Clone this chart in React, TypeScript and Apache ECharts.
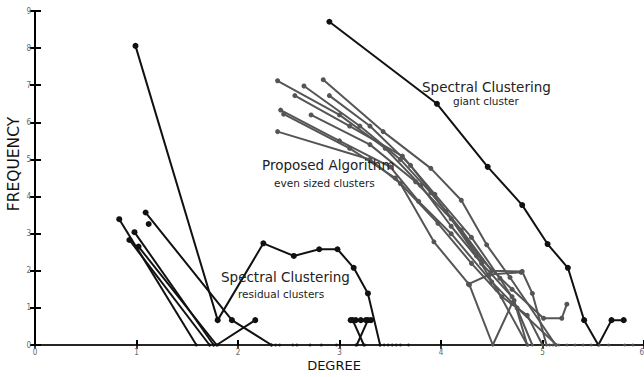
import React, { useEffect, useRef } from "react";
import * as echarts from "echarts";

const xTickValues = [0, 1, 2, 3, 4, 5, 6];
const yTickValues = [0, 1, 2, 3, 4, 5, 6, 7, 8, 9];

const giantCluster: number[][] = [
  [2.9, 8.71], [3.96, 6.5], [4.46, 4.8], [4.8, 3.77], [5.05, 2.72],
  [5.25, 2.08], [5.41, 0.67], [5.55, 0], [5.68, 0.67], [5.8, 0.67],
];

const residualClusters: number[][][] = [
  [[0.99, 8.06], [1.8, 0.67], [2.25, 2.74], [2.55, 2.4], [2.8, 2.58], [2.98, 2.58], [3.14, 2.08], [3.28, 1.39], [3.4, 0]],
  [[1.09, 3.57], [1.94, 0.67], [2.33, 0]],
  [[0.83, 3.39], [1.59, 0]],
  [[0.93, 2.83], [1.72, 0]],
  [[0.98, 3.04], [1.76, 0]],
  [[1.02, 2.65], [1.79, 0], [2.17, 0.67]],
  [[1.12, 3.26]],
  [[3.11, 0.67], [3.16, 0.67], [3.21, 0.67], [3.26, 0.67], [3.31, 0.67]],
  [[3.13, 0.67], [3.24, 0]],
  [[3.28, 0.67], [3.17, 0]],
];

const proposedClusters: number[][][] = [
  [[2.39, 7.12], [3.0, 6.2], [3.45, 5.3], [3.8, 4.3], [4.1, 3.2], [4.4, 2.2], [4.7, 1.3], [4.9, 0]],
  [[2.65, 6.98], [3.2, 5.9], [3.6, 5.0], [3.9, 4.1], [4.2, 3.1], [4.5, 2.0], [4.8, 1.98], [4.9, 1.39], [5.04, 0]],
  [[2.84, 7.15], [3.43, 5.75], [3.9, 4.76], [4.2, 3.9], [4.45, 2.7], [4.68, 1.82], [5.13, 0]],
  [[2.56, 6.72], [3.1, 5.9], [3.62, 5.09], [3.94, 4.06], [4.3, 2.9], [4.58, 1.8], [4.72, 1.2], [4.85, 0]],
  [[2.9, 6.72], [3.3, 5.9], [3.7, 4.84], [4.05, 3.6], [4.4, 2.3], [4.7, 1.5], [5.01, 0.72], [5.19, 0.72], [5.24, 1.1]],
  [[2.42, 6.33], [3.0, 5.5], [3.5, 4.8], [3.78, 3.87], [4.1, 3.0], [4.5, 1.7], [4.75, 1.0], [5.14, 0]],
  [[2.45, 6.22], [3.1, 5.3], [3.55, 4.5], [3.97, 3.28], [4.3, 2.2], [4.6, 1.3], [4.85, 0.8], [5.0, 0]],
  [[2.72, 6.2], [3.3, 5.4], [3.75, 4.4], [4.1, 3.4], [4.35, 2.4], [4.55, 1.5], [4.85, 0]],
  [[2.39, 5.75], [3.3, 5.0], [3.6, 4.35], [3.93, 2.78], [4.28, 1.62], [4.51, 0], [4.7, 1.12]],
  [[4.27, 1.64], [4.48, 1.9], [4.79, 1.96]],
];

const residualZeroDegrees = [1.72, 1.76, 1.8, 2.33, 2.37, 2.41, 2.54, 2.58, 2.71, 2.82, 2.97, 3.16, 3.25, 3.4, 3.44, 3.48, 3.52, 3.56, 3.6, 3.68];
const proposedZeroDegrees = [4.51, 4.86, 5.07, 5.1, 5.13, 5.16, 5.24, 5.32, 5.4, 5.48, 5.56, 5.65, 5.81, 5.89];

const annotations = [
  { text: "Spectral Clustering", x: 422, y: 87, size: 13.5 },
  { text: "giant cluster", x: 453, y: 101, size: 10.5 },
  { text: "Proposed Algorithm", x: 262, y: 165, size: 13.5 },
  { text: "even sized clusters", x: 274, y: 183, size: 10.5 },
  { text: "Spectral Clustering", x: 221, y: 277, size: 13.5 },
  { text: "residual clusters", x: 238, y: 294, size: 10.5 },
];

const BLACK = "#111111";
const GRAY = "#555555";

const symSize = (v: number[]) => (v[1] === 0 ? 3 : 6);

export default function App() {
  const ref = useRef<HTMLDivElement>(null);
  useEffect(() => {
    if (!ref.current) return;
    const chart = echarts.init(ref.current, null, { renderer: "svg" });
    const series: any[] = [];
    proposedClusters.forEach((d, i) => {
      series.push({
        type: "line", name: "proposed" + i, data: d, xAxisIndex: 0, yAxisIndex: 0,
        symbol: "circle", symbolSize: (v: number[]) => (v[1] === 0 ? 3 : 5),
        lineStyle: { color: GRAY, width: 2 }, itemStyle: { color: GRAY },
        z: 2,
      });
    });
    residualClusters.forEach((d, i) => {
      series.push({
        type: "line", name: "residual" + i, data: d,
        symbol: "circle", symbolSize: symSize,
        lineStyle: { color: BLACK, width: 2 }, itemStyle: { color: BLACK },
        z: 3,
      });
    });
    series.push({
      type: "line", name: "giant", data: giantCluster,
      symbol: "circle", symbolSize: symSize,
      lineStyle: { color: BLACK, width: 2 }, itemStyle: { color: BLACK },
      z: 3,
    });
    series.push({
      type: "scatter", name: "residualZeros", data: residualZeroDegrees.map((x) => [x, 0]),
      symbol: "circle", symbolSize: 3, itemStyle: { color: BLACK }, z: 4,
    });
    series.push({
      type: "scatter", name: "proposedZeros", data: proposedZeroDegrees.map((x) => [x, 0]),
      symbol: "circle", symbolSize: 3, itemStyle: { color: GRAY }, z: 4,
    });

    chart.setOption({
      animation: false,
      backgroundColor: "#ffffff",
      grid: { left: 35, right: 0, top: 11, bottom: 32, containLabel: false, outerBoundsMode: "none" },
      xAxis: [
        {
          type: "value", min: 0, max: 6, interval: 1, position: "bottom",
          axisLine: { show: true, onZero: false, lineStyle: { color: "#000", width: 2 } },
          axisTick: { show: true, inside: true, length: 5, lineStyle: { color: "#000", width: 2 } },
          axisLabel: { fontSize: 8, color: "#666", margin: 3, fontFamily: "DejaVu Sans Condensed",
            alignMaxLabel: "right",
            formatter: (v: number) => (xTickValues.includes(v) ? String(v) : "") },
          splitLine: { show: false },
        },
        {
          type: "value", min: 0, max: 6, interval: 1, position: "top",
          axisLine: { show: true, lineStyle: { color: "#333", width: 1.5 } },
          axisTick: { show: true, inside: true, length: 4, lineStyle: { color: "#000", width: 1.5 } },
          axisLabel: { show: false }, splitLine: { show: false },
        },
      ],
      yAxis: [
        {
          type: "value", min: 0, max: 9, interval: 1,
          axisLine: { show: true, onZero: false, lineStyle: { color: "#000", width: 2 } },
          axisTick: { show: true, inside: true, length: 6, lineStyle: { color: "#000", width: 2 } },
          axisLabel: { fontSize: 8, color: "#666", margin: 4, fontFamily: "DejaVu Sans Condensed",
            formatter: (v: number) => (yTickValues.includes(v) ? String(v) : "") },
          splitLine: { show: false },
        },
        {
          type: "value", min: 0, max: 9, interval: 1, position: "right",
          axisLine: { show: false },
          axisTick: { show: true, inside: true, length: 5, lineStyle: { color: "#000", width: 2 } },
          axisLabel: { show: false }, splitLine: { show: false },
        },
      ],
      graphic: [
        ...annotations.map((a) => ({
          type: "text", x: a.x, y: a.y, z: 10,
          style: { text: a.text, fontSize: a.size, fill: "#222", fontFamily: "DejaVu Sans", textVerticalAlign: "middle" },
        })),
        {
          type: "text", x: 334, y: 365, z: 10,
          style: { text: "DEGREE", fontSize: 13, fill: "#111", fontFamily: "DejaVu Sans", textAlign: "center", textVerticalAlign: "middle" },
        },
        {
          type: "text", x: 14, y: 164, rotation: Math.PI / 2, z: 10,
          style: { text: "FREQUENCY", fontSize: 15.5, fill: "#111", fontFamily: "DejaVu Sans", textAlign: "center", textVerticalAlign: "middle" },
        },
      ],
      series,
    });
    return () => chart.dispose();
  }, []);
  return <div ref={ref} style={{ position: "fixed", left: 0, top: 0, width: 644, height: 377 }} />;
}
